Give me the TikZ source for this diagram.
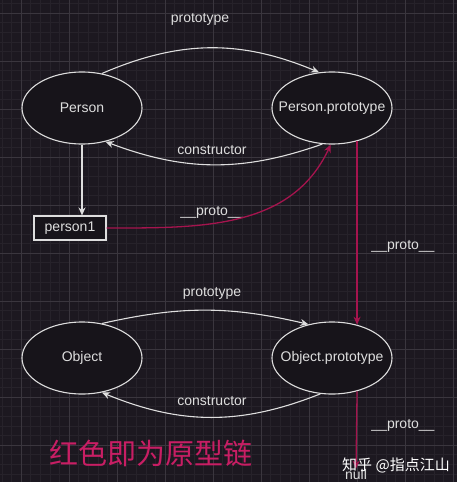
\documentclass[tikz,border=0pt]{standalone}
\usepackage{fontspec}
\setmainfont{Liberation Sans}
\newfontfamily\cjk{Noto Sans CJK SC}
\usetikzlibrary{shapes.geometric, arrows.meta, calc}

\definecolor{bgdark}{RGB}{28,24,32}
\definecolor{fillobj}{RGB}{23,20,26}
\definecolor{gridminor}{RGB}{38,34,42}
\definecolor{gridmajor}{RGB}{58,54,62}
\definecolor{linegray}{RGB}{222,222,222}
\definecolor{chainred}{RGB}{165,20,78}
\definecolor{notered}{RGB}{200,30,100}

% text of fixed-size nodes, kept out of the shape size
\newcommand{\otext}[1]{\makebox[0pt]{#1}}

\tikzset{
    obj/.style={ellipse, draw=linegray, fill=fillobj, line width=1.1pt,
        minimum width=120pt, minimum height=72pt, inner sep=0pt,
        text=linegray, font=\fontsize{14}{16}\selectfont},
    box/.style={rectangle, draw=linegray, fill=fillobj, line width=1.1pt,
        minimum width=72pt, minimum height=24pt, inner sep=0pt,
        text=linegray, font=\fontsize{14}{16}\selectfont},
    lbl/.style={text=linegray, inner sep=0pt, font=\fontsize{14}{16}\selectfont},
    link/.style={draw=linegray, line width=1.1pt, -{Stealth[length=8pt,width=7pt]}},
    chain/.style={draw=chainred, line width=1.3pt, -{Stealth[length=8pt,width=7pt]}},
}

\begin{document}
\begin{tikzpicture}[x=1pt, y=1pt]
    \useasboundingbox (0,0) rectangle (457,-485);
    \fill[bgdark] (0,0) rectangle (457,-485);
    % grid
    \foreach \k in {0,...,47}
        \draw[gridminor, line width=0.5pt] ({1.8+9.6*\k},0) -- ++(0,-485);
    \foreach \k in {0,...,50}
        \draw[gridminor, line width=0.5pt] (0,{-3.4-9.6*\k}) -- ++(457,0);
    \foreach \k in {0,...,9}
        \draw[gridmajor, line width=0.6pt] ({21+48*\k},0) -- ++(0,-485);
    \foreach \k in {0,...,9}
        \draw[gridmajor, line width=0.6pt] (0,{-13-48*\k}) -- ++(457,0);

    \node[obj] (person) at (82,-108) {\otext{Person}}; % Person
    \node[obj] (personproto) at (332,-108) {\otext{Person.prototype}}; % Person.prototype
    \node[box] (person1) at (70,-228) {person1}; % person1
    \node[obj] (object) at (82,-358) {\otext{Object}}; % Object
    \node[obj] (objectproto) at (332,-358) {\otext{Object.prototype}}; % Object.prototype
    \node[lbl] (nul) at (356,-474) {null}; % null

    \node[lbl] (protoA) at (200,-19) {prototype};
    \node[lbl] (ctorA) at (212,-150) {constructor};
    \node[lbl] (dunderA) at (212,-212) {\_\_proto\_\_};
    \node[lbl] (dunderB) at (403,-246) {\_\_proto\_\_};
    \node[lbl] (protoB) at (212,-293) {prototype};
    \node[lbl] (ctorB) at (212,-401) {constructor};
    \node[lbl] (dunderC) at (403,-425) {\_\_proto\_\_};

    \draw
        (person.60) edge[link, bend left=23] (personproto.110)
        (personproto.255) edge[link, bend left=20] (person.305)
        (person.south) edge[link] (person.south |- person1.north)
        (object.60) edge[link, bend left=13] (objectproto.125)
        (objectproto.252) edge[link, bend left=22] (object.300)
        ;
    \draw
        (person1.east) edge[chain, out=0, in=-115] (personproto.268)
        (personproto.-53) edge[chain] (objectproto.53)
        (objectproto.-53) edge[chain] (nul.north)
        ;

    \node[text=notered, inner sep=0pt, font=\cjk\fontsize{29}{32}\selectfont] (note) at (151,-453) {红色即为原型链};
    \node[text=white, inner sep=0pt, font=\cjk\fontsize{15}{17}\selectfont] (mark) at (396,-465) {知乎 @指点江山};
    \fill[white] (0,-482) rectangle (457,-485);
\end{tikzpicture}
\end{document}
